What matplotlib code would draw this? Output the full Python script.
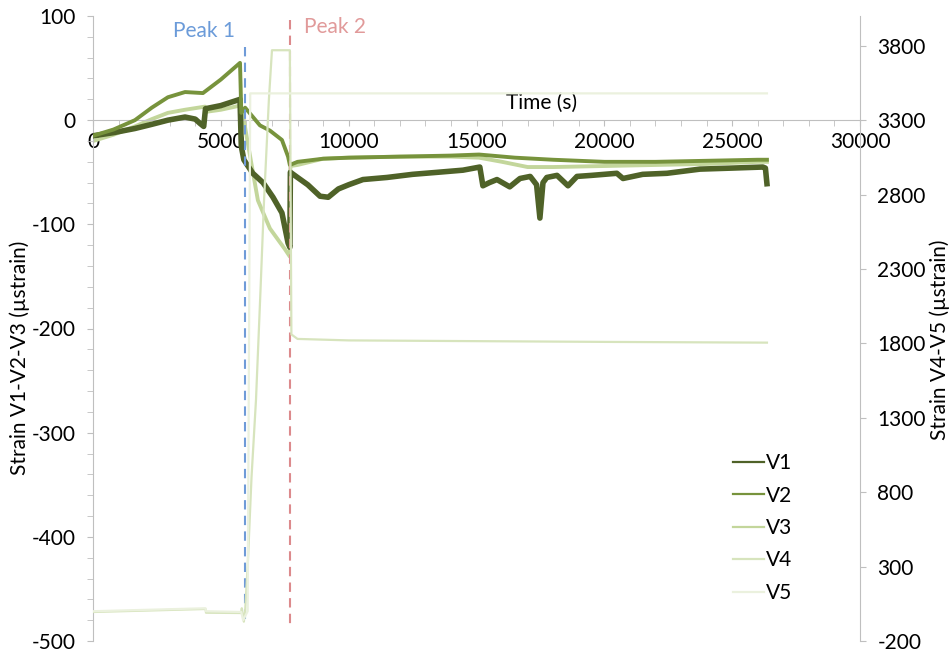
import numpy as np
import matplotlib
matplotlib.use('Agg')
import matplotlib.pyplot as plt
from matplotlib.lines import Line2D
from matplotlib.ticker import MultipleLocator

plt.rcParams['font.family'] = ['Lato', 'DejaVu Sans']
plt.rcParams['axes.unicode_minus'] = False
FS = 15

# left axis series (time in s, strain in µstrain)
t_v1 = [0, 800, 1640, 2300, 2930, 3600, 4000, 4180, 4330, 4400, 5000, 5750, 5800, 5900,
        6250, 6650, 7040, 7390, 7630, 7700, 7720, 8000, 8400, 8880, 9200, 9600, 10000,
        10560, 11500, 12500, 13500, 14470, 15130, 15250, 15500, 15800, 16300, 16700,
        17100, 17350, 17480, 17600, 17750, 18150, 18580, 18930, 19500, 20490, 20730,
        21500, 22450, 23740, 25000, 26200, 26300, 26360]
v1 = [-15, -12, -8, -4, 0, 3, 1, -3, -6, 11, 14, 20, -25, -38,
      -51, -60, -74, -89, -118, -122, -50, -55, -62, -73, -74, -66, -62,
      -57, -55, -52, -50, -48, -45, -63, -60, -57, -64, -56,
      -54, -62, -94, -60, -55, -53, -63, -54, -53, -51, -56,
      -52, -51, -47, -46, -45, -46, -61]

t_v2 = [0, 800, 1640, 2300, 2930, 3600, 4300, 5000, 5750, 5800, 5950, 6530, 6920, 7390,
        7630, 7700, 8000, 9000, 10000, 12000, 14000, 15100, 16500, 18000, 20000, 22000,
        24000, 26000, 26360]
v2 = [-15, -9, 0, 12, 22, 27, 26, 39, 55, 7, 12, -5, -10, -19,
      -35, -43, -40, -37, -36, -35, -34, -33, -36, -38, -40, -40,
      -39, -38, -38]

t_v3 = [0, 800, 1640, 2300, 2930, 3600, 4380, 4420, 5000, 5750, 5800, 5900, 6140, 6450,
        6920, 7510, 7700, 7720, 8000, 9000, 10000, 12000, 14000, 15100, 16000, 17000,
        18000, 20000, 22000, 24000, 26000, 26360]
v3 = [-20, -14, -6, 1, 7, 10, 13, 8, 10, 14, 10, 0, -34, -77,
      -104, -124, -131, -44, -43, -37, -36, -35, -35, -36, -40, -45,
      -45, -44, -43, -42, -40, -40]

# right axis series
t_v4 = [0, 4400, 4420, 5790, 5820, 5900, 5950, 6060, 6200, 6375, 6550, 6690, 6880, 7000,
        7700, 7760, 8000, 10000, 15000, 20000, 26360]
v4 = [-5, 15, -10, -12, 20, -70, 0, 340, 900, 1420, 2150, 2760, 3440, 3770,
      3770, 1860, 1830, 1820, 1815, 1810, 1805]

t_v5 = [0, 4400, 4420, 5800, 5870, 6050, 6150, 26360]
v5 = [0, 20, 0, -5, -60, 0, 3480, 3480]

peak_times = [5945, 7705]
peak_names = ['Peak 1', 'Peak 2']

names = ['V1', 'V2', 'V3', 'V4', 'V5']
colors = ['#4f6228', '#77933c', '#c3d69b', '#d7e4bd', '#ebf1de']
widths = [4.0, 2.8, 2.8, 1.6, 1.6]

fig = plt.figure(figsize=(9.53, 6.53), dpi=100)
ax = fig.add_axes([93 / 953, 12 / 653, 767 / 953, 625 / 653])
ax2 = ax.twinx()

ax.plot(t_v1, v1, color=colors[0], lw=widths[0], zorder=3)
ax.plot(t_v2, v2, color=colors[1], lw=widths[1], zorder=3)
ax.plot(t_v3, v3, color=colors[2], lw=widths[2], zorder=2)
ax2.plot(t_v4, v4, color=colors[3], lw=widths[3])
ax2.plot(t_v5, v5, color=colors[4], lw=widths[4])

# peak markers
ax.plot([peak_times[0]] * 2, [70, -485], ls='--', dashes=(4.5, 3), color='#6f9bd8', lw=1.5, zorder=4)
ax.plot([peak_times[1]] * 2, [96, -485], ls='--', dashes=(4.5, 3), color='#dc8a8c', lw=1.5, zorder=4)
ax.text(4340, 86, peak_names[0], color='#6b9bd9', fontsize=FS, ha='center', va='center')
ax.text(9460, 89, peak_names[1], color='#e19a9a', fontsize=FS, ha='center', va='center')

ax.set_xlim(0, 30000)
ax.set_ylim(-500, 100)
ax2.set_ylim(-200, 4000)

grey = '#bfbfbf'
for s in ['top', 'right']:
    ax.spines[s].set_visible(False)
for s in ['top', 'left', 'bottom']:
    ax2.spines[s].set_visible(False)
ax.spines['bottom'].set_position(('data', 0))
ax.spines['bottom'].set_color(grey)
ax.spines['left'].set_color(grey)
ax2.spines['right'].set_color(grey)

ax.xaxis.set_major_locator(MultipleLocator(5000))
ax.xaxis.set_minor_locator(MultipleLocator(1000))
ax.yaxis.set_major_locator(MultipleLocator(100))
ax.yaxis.set_minor_locator(MultipleLocator(20))
ax2.set_yticks(np.arange(-200, 3801, 500))

ax.tick_params(axis='both', which='both', direction='out', color=grey, labelsize=FS, labelcolor='black')
ax.tick_params(axis='x', which='both', length=4.5, pad=4)
ax.tick_params(axis='y', which='both', length=4.5, pad=8)
ax2.tick_params(axis='y', direction='out', color=grey, length=4.5, labelsize=FS, labelcolor='black', pad=8)

ax.set_xlabel('Time (s)', fontsize=FS)
ax.xaxis.set_label_coords((542 - 93) / 767, (641 - 103) / 625)
ax.xaxis.label.set_va('center')
ax.set_ylabel('Strain V1-V2-V3 (µstrain)', fontsize=FS)
ax.yaxis.set_label_coords((20 - 93) / 767, (641 - 358) / 625)
ax.yaxis.label.set_va('center')
ax2.set_ylabel('Strain V4-V5 (µstrain)', fontsize=FS, rotation=90)
ax2.yaxis.set_label_coords((940 - 93) / 767, (641 - 340) / 625)
ax2.yaxis.label.set_va('center')

handles = [Line2D([], [], color=c, lw=1.6) for c in colors]
fig.legend(handles, names, loc='upper left', bbox_to_anchor=(733 / 953, 1 - 453 / 653),
           frameon=False, fontsize=FS, handlelength=1.5, handletextpad=0.1,
           labelspacing=0.6, borderpad=0, borderaxespad=0)

fig.savefig('out.png', dpi=100)
